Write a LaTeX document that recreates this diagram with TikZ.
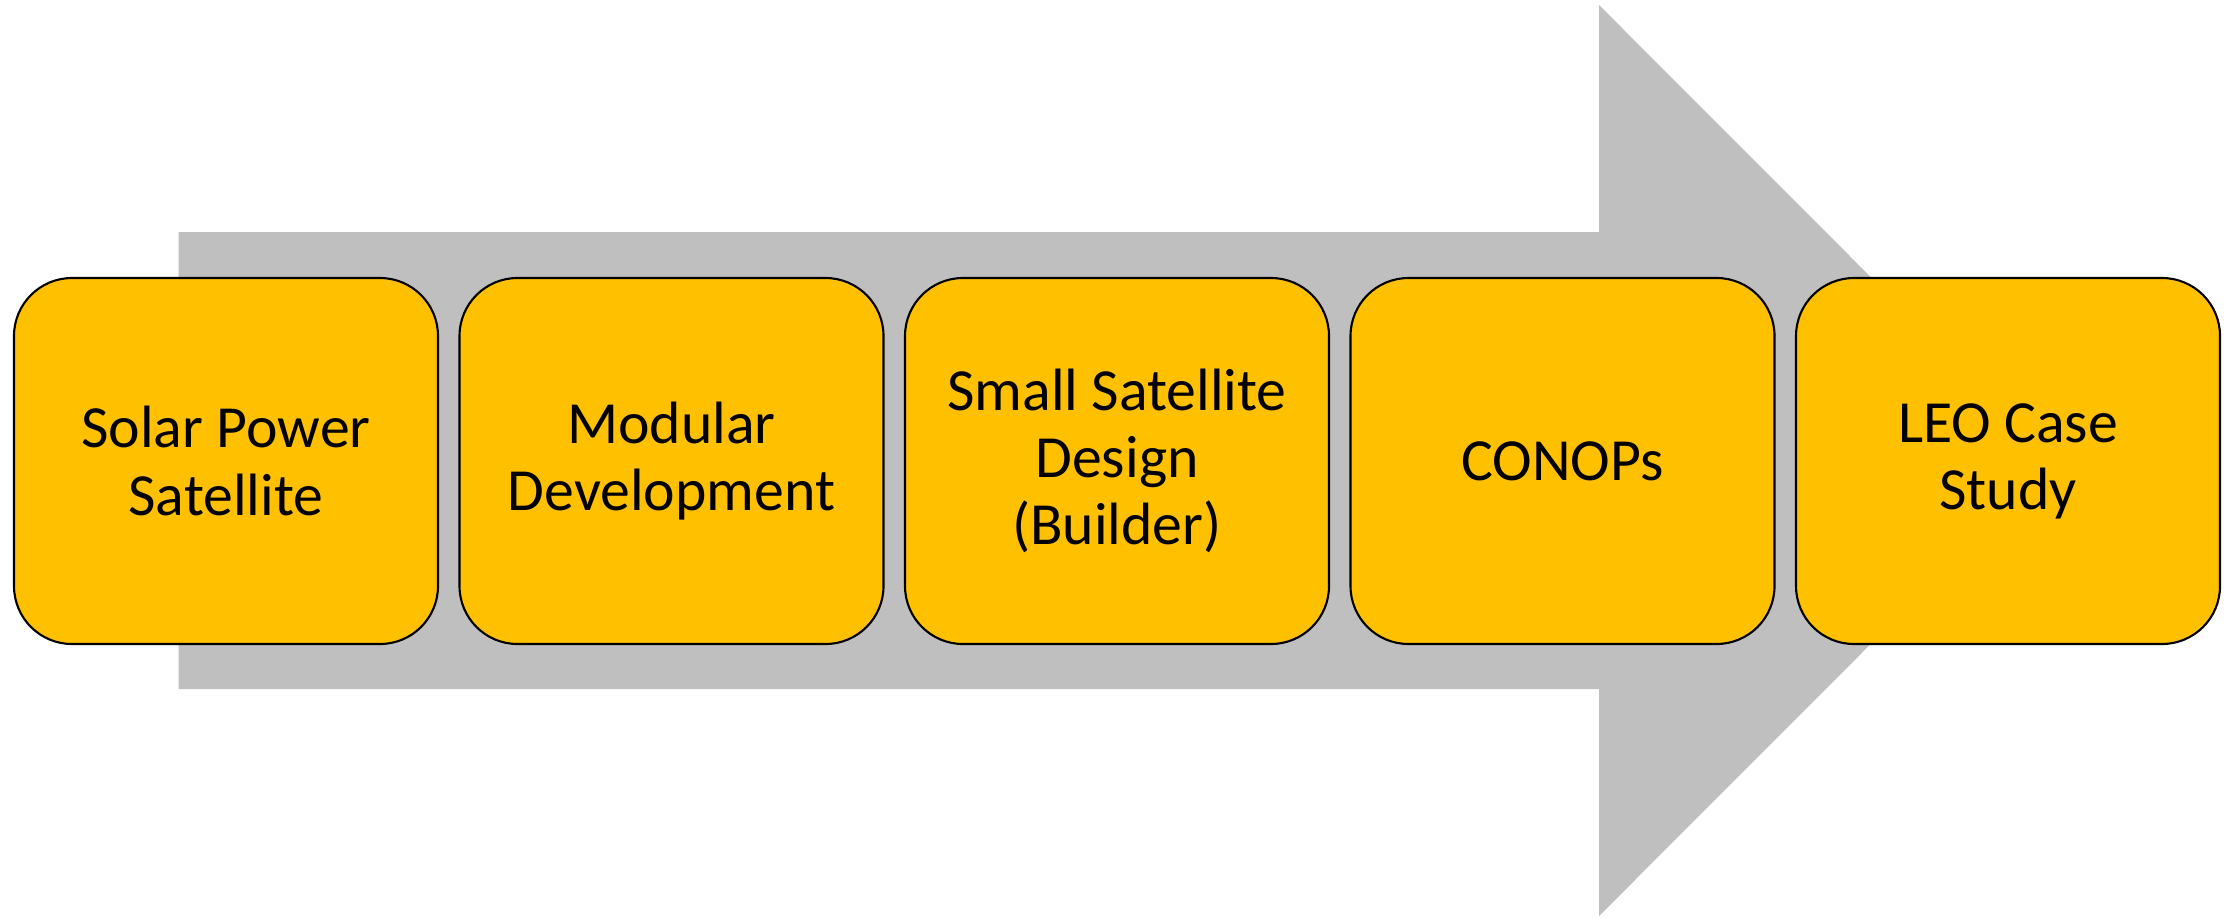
\documentclass[tikz,border=0pt]{standalone}
\usepackage{fontspec}
\setmainfont{Carlito}
\usepackage{xcolor}
\usepackage{tikz}
\usetikzlibrary{positioning}
\definecolor{arrowgray}{HTML}{BFBFBF}
\definecolor{stageyellow}{HTML}{FFC000}
\tikzset{stage/.style={draw=black, line width=0.6pt, fill=stageyellow, rounded corners=0.58cm,
    minimum width=4.24cm, minimum height=3.66cm, inner sep=0pt, outer sep=0pt,
    align=center, font=\fontsize{17}{19.1}\selectfont}}

\begin{document}
\begin{tikzpicture}[node distance=0.215cm]
        \useasboundingbox (0,0) rectangle (22.26,9.17);
        \fill[arrowgray] (1.787,6.85) -- (15.99,6.85) -- (15.99,9.12) -- (20.54,4.565)
            -- (15.99,0.01) -- (15.99,2.28) -- (1.787,2.28) -- cycle;
        \node[stage] (solar) at (2.26,4.56) {Solar Power\\Satellite};
        \node[stage, right=of solar] (modular) {Modular\\Development};
        \node[stage, right=of modular] (smallsat) {Small Satellite\\Design\\(Builder)};
        \node[stage, right=of smallsat] (conops) {CONOPs};
        \node[stage, right=of conops] (leo) {LEO Case\\Study};
    \end{tikzpicture}
\end{document}
